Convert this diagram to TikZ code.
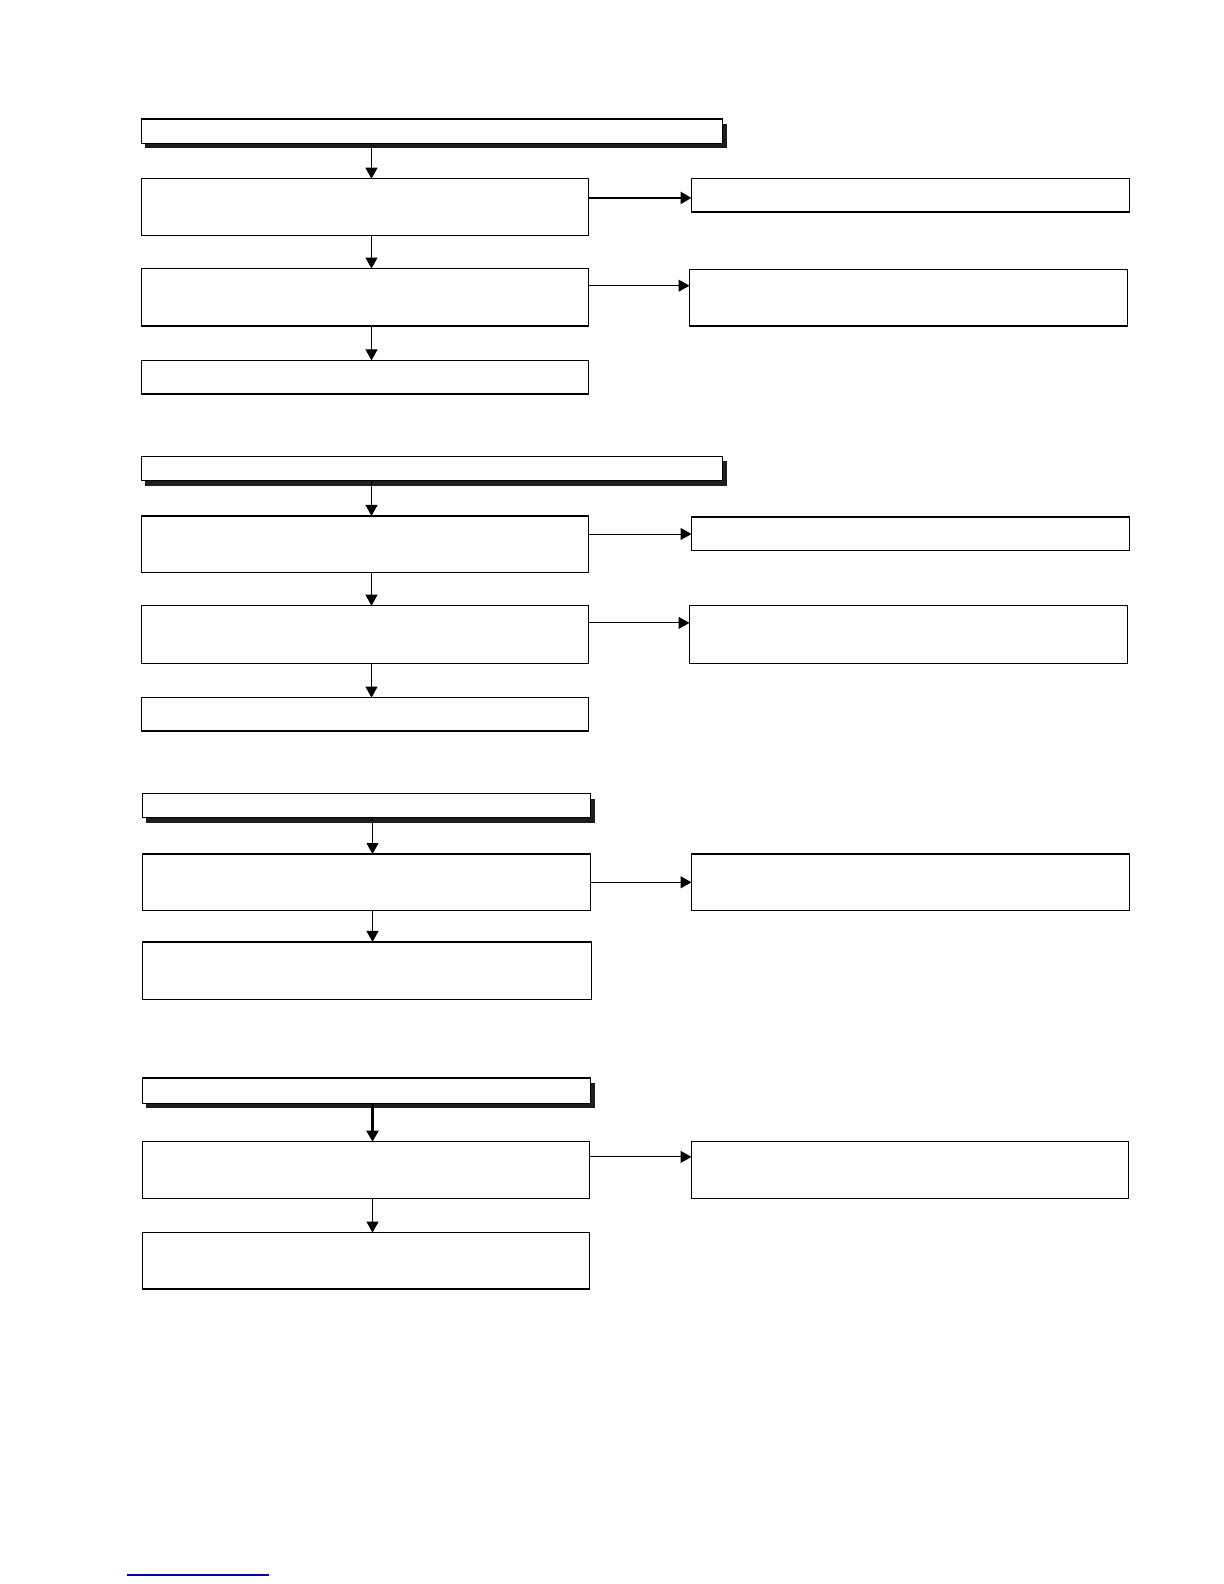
\documentclass[tikz,border=0pt]{standalone}
\usetikzlibrary{arrows.meta,shadows}

\tikzset{every picture/.style={line width=0.5pt}}
\tikzset{
	flowbox/.style={draw, line width=0.75pt, fill=white, anchor=north west, inner sep=0pt, outer sep=0pt},
	headbox/.style={flowbox, drop shadow={shadow xshift=2pt, shadow yshift=-2.5pt, fill={rgb, 255:red, 30; green, 30; blue, 30 }, opacity=1}},
	flowarrow/.style={-{Triangle[length=5.5pt,width=6pt]}}}

\begin{document}
\begin{tikzpicture}[x=0.5pt,y=0.5pt,yscale=-1,xscale=1]
	\useasboundingbox (0,0) rectangle (1224,1584);

	%Shape: Rectangle [section 1] 
	\node [headbox, minimum width=290.7pt, minimum height=12.1pt] (h1) at (141.3,119.1) {};
	\node [flowbox, minimum width=223.6pt, minimum height=28.3pt] (b1) at (141.3,178.7) {};
	\node [flowbox, minimum width=219.1pt, minimum height=16.7pt] (r1) at (691.5,178.7) {};
	\node [flowbox, minimum width=223.6pt, minimum height=28.8pt] (b2) at (141.3,268.5) {};
	\node [flowbox, minimum width=219.1pt, minimum height=28.3pt] (r2) at (689.5,269.5) {};
	\node [flowbox, minimum width=223.6pt, minimum height=16.7pt] (b3) at (141.3,360.4) {};

	%Shape: Rectangle [section 2] 
	\node [headbox, minimum width=290.7pt, minimum height=12.1pt] (h2) at (141.3,456.3) {};
	\node [flowbox, minimum width=223.6pt, minimum height=28.3pt] (b4) at (141.3,515.9) {};
	\node [flowbox, minimum width=219.1pt, minimum height=16.7pt] (r3) at (691.5,516.9) {};
	\node [flowbox, minimum width=223.6pt, minimum height=28.8pt] (b5) at (141.3,605.7) {};
	\node [flowbox, minimum width=219.1pt, minimum height=28.8pt] (r4) at (689.5,605.7) {};
	\node [flowbox, minimum width=223.6pt, minimum height=16.7pt] (b6) at (141.3,697.6) {};

	%Shape: Rectangle [section 3] 
	\node [headbox, minimum width=224.1pt, minimum height=12.1pt] (h3) at (142.3,793.5) {};
	\node [flowbox, minimum width=224.1pt, minimum height=28.3pt] (b7) at (142.3,854) {};
	\node [flowbox, minimum width=219.1pt, minimum height=28.3pt] (r5) at (691.5,854) {};
	\node [flowbox, minimum width=224.6pt, minimum height=28.8pt] (b8) at (142.3,941.9) {};

	%Shape: Rectangle [section 4] 
	\node [headbox, minimum width=224.1pt, minimum height=12.6pt] (h4) at (142.3,1078.1) {};
	\node [flowbox, minimum width=223.6pt, minimum height=28.3pt] (b9) at (142.3,1141.7) {};
	\node [flowbox, minimum width=218.6pt, minimum height=28.3pt] (r6) at (691.5,1141.7) {};
	\node [flowbox, minimum width=223.6pt, minimum height=28.3pt] (b10) at (142.3,1232.6) {};

	% columns and rows of the connectors
	\coordinate (c1) at (371.5,0);
	\coordinate (c2) at (372.5,0);
	\coordinate (y1) at (0,197.9);
	\coordinate (y2) at (0,285.7);
	\coordinate (y3) at (0,534);
	\coordinate (y4) at (0,622.9);
	\coordinate (y5) at (0,882.3);
	\coordinate (y6) at (0,1156.9);

	%Straight Lines 
	\draw [flowarrow] (c1 |- h1.south) -- (c1 |- b1.north);
	\draw [flowarrow] (c1 |- b1.south) -- (c1 |- b2.north);
	\draw [flowarrow] (c1 |- b2.south) -- (c1 |- b3.north);
	\draw [flowarrow, line width=1.2pt] (b1.east |- y1) -- (r1.west |- y1);
	\draw [flowarrow] (b2.east |- y2) -- (r2.west |- y2);
	%Straight Lines 
	\draw [flowarrow] (c1 |- h2.south) -- (c1 |- b4.north);
	\draw [flowarrow] (c1 |- b4.south) -- (c1 |- b5.north);
	\draw [flowarrow] (c1 |- b5.south) -- (c1 |- b6.north);
	\draw [flowarrow] (b4.east |- y3) -- (r3.west |- y3);
	\draw [flowarrow] (b5.east |- y4) -- (r4.west |- y4);
	%Straight Lines 
	\draw [flowarrow] (c2 |- h3.south) -- (c2 |- b7.north);
	\draw [flowarrow] (c2 |- b7.south) -- (c2 |- b8.north);
	\draw [flowarrow] (b7.east |- y5) -- (r5.west |- y5);
	%Straight Lines 
	\draw [flowarrow, line width=1.1pt] (c2 |- h4.south) -- (c2 |- b9.north);
	\draw [flowarrow] (c2 |- b9.south) -- (c2 |- b10.north);
	\draw [flowarrow] (b9.east |- y6) -- (r6.west |- y6);

	%Straight Lines [page link] 
	\draw [color={rgb, 255:red, 0; green, 0; blue, 170 }, line width=0.8pt] (127,1575) -- (269,1575);

\end{tikzpicture}
\end{document}
